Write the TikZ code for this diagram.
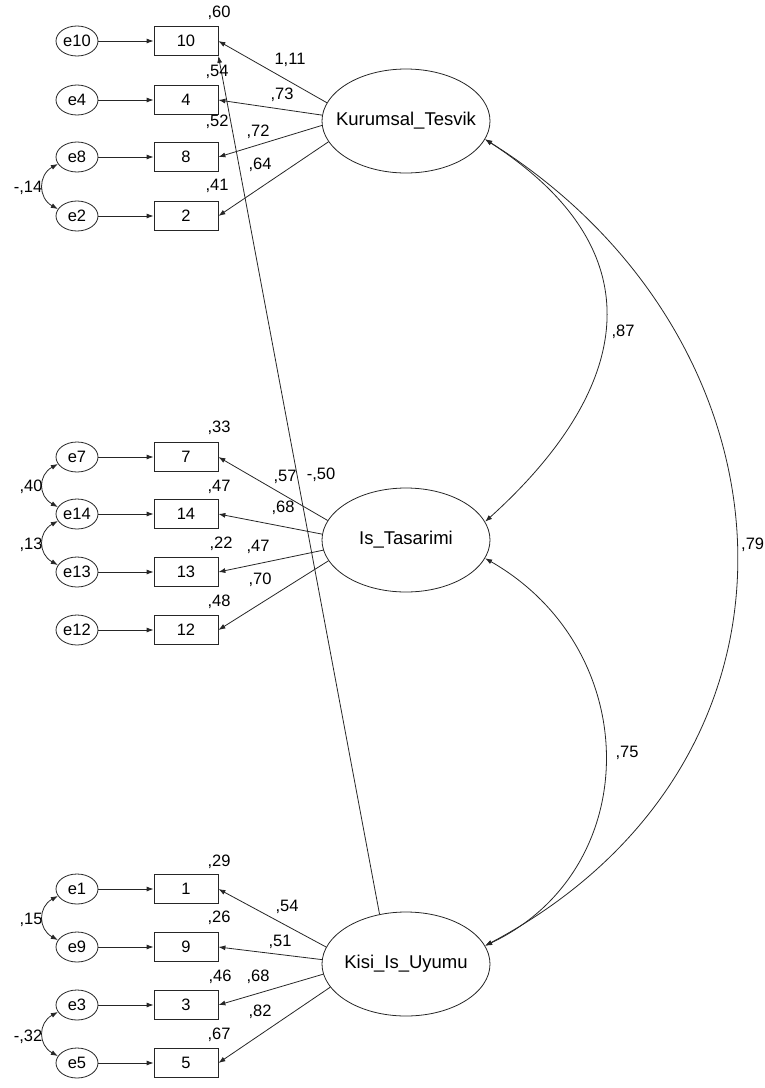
\documentclass[tikz,border=0pt]{standalone}
\usepackage{fontspec}
\setmainfont{Liberation Sans}
\usetikzlibrary{arrows.meta,shapes.geometric}
\newcommand{\smf}{\fontsize{16.5}{18}\selectfont}
\newcommand{\bigf}{\fontsize{18.5}{20}\selectfont}
\begin{document}
\begin{tikzpicture}[x=1pt,y=-1pt,
  ln/.style={line width=0.8pt,draw=black!85},
  arr/.style={ln,-{Latex[length=7pt,width=5pt]}},
  darr/.style={ln,{Latex[length=7pt,width=5pt]}-{Latex[length=7pt,width=5pt]}},
  obs/.style={ln,rectangle,minimum width=64pt,minimum height=29pt,inner sep=0pt,font=\smf},
  err/.style={ln,ellipse,minimum width=42pt,minimum height=30pt,inner sep=0pt,font=\smf},
  lat/.style={ln,ellipse,minimum width=168pt,minimum height=104pt,inner sep=0pt},
  lbl/.style={inner sep=0pt,font=\smf}
]
\useasboundingbox (0,0) rectangle (765,1088);

% latent variables
\node[lat,label={[font=\bigf]center:Kurumsal\_Tesvik}] (KT) at (406,121) {};
\node[lat,label={[font=\bigf]center:Is\_Tasarimi}] (IT) at (406,540) {};
\node[lat,label={[font=\bigf]center:Kisi\_Is\_Uyumu}] (KIU) at (406,964) {};

% observed items and errors
\foreach \n/\y in {10/41,4/100,8/157,2/216,7/457,14/514,13/572,12/630,1/889,9/947,3/1005,5/1063}{
  \node[obs] (b\n) at (186,\y) {\n};
  \node[err] (e\n) at (77,\y) {e\n};
  \draw[arr] (e\n) -- (b\n);
}

% loadings
\draw[arr] (KT.167) -- (b10.east);
\draw[arr] (KT.176) -- (b4.east);
\draw[arr] (KT.183) -- (b8.east);
\draw[arr] (KT.195) -- (b2.east);
\draw[arr] (IT.166) -- (b7.east);
\draw[arr] (IT.176) -- (b14.east);
\draw[arr] (IT.187) -- (b13.east);
\draw[arr] (IT.195) -- (b12.east);
\draw[arr] (KIU.168) -- (b1.east);
\draw[arr] (KIU.177) -- (b9.east);
\draw[arr] (KIU.187) -- (b3.east);
\draw[arr] (KIU.197) -- (b5.east);
\draw[arr] (KIU.118) -- (b10.south east);

% error covariances
\draw[darr] (e8.200) .. controls (38,175) and (38,198) .. (e2.160);
\draw[darr] (e7.200) .. controls (38,475) and (38,496) .. (e14.160);
\draw[darr] (e14.200) .. controls (38,532) and (38,554) .. (e13.160);
\draw[darr] (e1.200) .. controls (38,907) and (38,929) .. (e9.160);
\draw[darr] (e3.200) .. controls (38,1023) and (38,1045) .. (e5.160);

% latent covariances
\draw[darr] (KT.-13) .. controls (670,259) and (620,400) .. (IT.13);
\draw[darr] (IT.-13) .. controls (645,650) and (645,870) .. (KIU.13);
\draw[darr] (KT.-13) .. controls (805,340) and (835,760) .. (KIU.13);

% R squared labels
\node[lbl] (r10) at (219,13) {,60};
\node[lbl] (r4) at (217,72) {,54};
\node[lbl] (r8) at (217,122) {,52};
\node[lbl] (r2) at (217,186) {,41};
\node[lbl] (r7) at (219,428) {,33};
\node[lbl] (r14) at (219,487) {,47};
\node[lbl] (r13) at (221,544) {,22};
\node[lbl] (r12) at (219,602) {,48};
\node[lbl] (r1) at (219,862) {,29};
\node[lbl] (r9) at (219,918) {,26};
\node[lbl] (r3) at (220,977) {,46};
\node[lbl] (r5) at (219,1035) {,67};

% loading labels
\node[lbl] (l10) at (290,60) {1,11};
\node[lbl] (l4) at (282,95) {,73};
\node[lbl] (l8) at (258,132) {,72};
\node[lbl] (l2) at (260,165) {,64};
\node[lbl] (l7) at (285,477) {,57};
\node[lbl] (lx) at (321,475) {-,50};
\node[lbl] (l14) at (283,508) {,68};
\node[lbl] (l13) at (258,547) {,47};
\node[lbl] (l12) at (260,580) {,70};
\node[lbl] (l1) at (287,907) {,54};
\node[lbl] (l9) at (280,942) {,51};
\node[lbl] (l3) at (258,977) {,68};
\node[lbl] (l5) at (260,1012) {,82};

% covariance labels
\node[lbl] (c82) at (28,188) {-,14};
\node[lbl] (c714) at (31,487) {,40};
\node[lbl] (c1413) at (31,545) {,13};
\node[lbl] (c19) at (31,920) {,15};
\node[lbl] (c35) at (28,1037) {-,32};
\node[lbl] (cKI) at (623,332) {,87};
\node[lbl] (cIK) at (627,753) {,75};
\node[lbl,anchor=west] (cKK) at (741,545) {,79};
\end{tikzpicture}
\end{document}
